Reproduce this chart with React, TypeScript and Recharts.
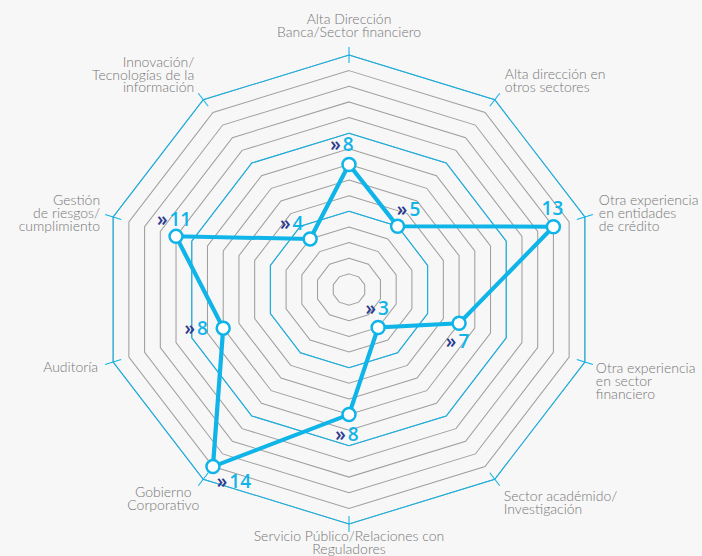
import {
  PolarAngleAxis,
  PolarGrid,
  PolarRadiusAxis,
  Radar,
  RadarChart,
} from "recharts";

const categories = [
  "Alta Dirección\nBanca/Sector financiero",
  "Alta dirección en\notros sectores",
  "Otra experiencia\nen entidades\nde crédito",
  "Otra experiencia\nen sector\nfinanciero",
  "Sector académido/\nInvestigación",
  "Servicio Público/Relaciones con\nReguladores",
  "Gobierno\nCorporativo",
  "Auditoría",
  "Gestión\nde riesgos/\ncumplimiento",
  "Innovación/\nTecnologías de la\ninformación",
];
const counts = [8, 5, 13, 7, 3, 8, 14, 8, 11, 4];
const hasChevron = [true, true, false, true, true, true, true, true, true, true];
const maxValue = 15;
const highlightRings = [5, 10, 15];

const CX = 349;
const CY = 289.5;
const R = 234.5;
// the original polygon is a bit wider than tall
const SX = 248 / 234.5;

const CYAN = "#0fb4e8";
const NAVY = "#2c3a8f";
const GRAY = "#9f9f9f";
const LABEL = "#767676";

// axis label placement, relative to the outer vertex (screen px)
const axisLabelPos: { anchor: "start" | "middle" | "end"; dx: number; dy: number }[] = [
  { anchor: "middle", dx: 0, dy: -31 },
  { anchor: "start", dx: 10, dy: -21 },
  { anchor: "start", dx: 14, dy: -12 },
  { anchor: "start", dx: 11, dy: 11 },
  { anchor: "start", dx: 9, dy: 21.5 },
  { anchor: "middle", dx: 0, dy: 17 },
  { anchor: "middle", dx: -40, dy: 18 },
  { anchor: "end", dx: -15, dy: 10 },
  { anchor: "end", dx: -13, dy: -12 },
  { anchor: "end", dx: -9, dy: -33 },
];

// value label offset from its dot (screen px, text centre / baseline)
const valueLabelPos = [
  [-7, -13],
  [11, -10],
  [-1, -12],
  [-1.5, 25],
  [-1, -12],
  [-2, 26],
  [21, 21],
  [-27, 7],
  [-2, -10],
  [-18.5, -9],
];

const data = categories.map((c, i) => ({ category: c, count: counts[i] }));

function AxisTick(p: any) {
  const i = categories.indexOf(p.payload.value);
  const rad = (-p.payload.coordinate * Math.PI) / 180;
  const vx = CX + R * Math.cos(rad);
  const vy = CY + R * Math.sin(rad);
  const pos = axisLabelPos[i];
  const lines = String(p.payload.value).split("\n");
  return (
    <g>
      <line
        x1={vx - 8 * Math.cos(rad)}
        y1={vy - 8 * Math.sin(rad)}
        x2={vx + 8 * Math.cos(rad)}
        y2={vy + 8 * Math.sin(rad)}
        stroke={CYAN}
        strokeWidth={1}
      />
      <g transform={`translate(${vx},${vy}) scale(${1 / SX},1)`}>
        <text
          textAnchor={pos.anchor}
          fontFamily="Lato, 'Open Sans', sans-serif"
          fontWeight={300}
          fontSize={14}
          fill={LABEL}
        >
          {lines.map((l, k) => (
            <tspan key={k} x={pos.dx} y={pos.dy + k * 12.8}>
              {l}
            </tspan>
          ))}
        </text>
      </g>
    </g>
  );
}

function ValueDot(p: any) {
  const i = p.index;
  const [dx, dy] = valueLabelPos[i];
  return (
    <g key={`dot-${i}`} transform={`translate(${p.cx},${p.cy}) scale(${1 / SX},1)`}>
      <circle r={6.5} fill="#fff" stroke={CYAN} strokeWidth={2.5} />
      <text
        x={dx}
        y={dy}
        textAnchor="middle"
        fontFamily="'Open Sans', sans-serif"
        fontSize={19}
        fontWeight={600}
      >
        {hasChevron[i] && <tspan fill={NAVY}>»</tspan>}
        <tspan fill={CYAN} dx={hasChevron[i] ? 2 : 0}>
          {counts[i]}
        </tspan>
      </text>
    </g>
  );
}

export default function App() {
  return (
    <div
      style={{
        position: "absolute",
        left: 0,
        top: 0,
        width: 702,
        height: 556,
        background: "#f7f7f7",
        overflow: "hidden",
      }}
    >
      <div style={{ transform: `scaleX(${SX})`, transformOrigin: `${CX}px 0` }}>
        <RadarChart
          width={702}
          height={556}
          data={data}
          cx={CX}
          cy={CY}
          outerRadius={R}
          margin={{ top: 0, right: 0, bottom: 0, left: 0 }}
        >
          <PolarGrid gridType="polygon" radialLines={false} stroke={GRAY} />
          <PolarGrid
            gridType="polygon"
            radialLines={false}
            stroke={CYAN}
            polarRadius={highlightRings.map((v) => (v / maxValue) * R)}
          />
          <PolarAngleAxis
            dataKey="category"
            tick={AxisTick}
            tickLine={false}
            axisLine={false}
          />
          <PolarRadiusAxis
            domain={[0, maxValue]}
            tickCount={maxValue + 1}
            tick={false}
            axisLine={false}
          />
          <Radar
            dataKey="count"
            stroke={CYAN}
            strokeWidth={4}
            fill="none"
            fillOpacity={0}
            dot={ValueDot}
            isAnimationActive={false}
          />
        </RadarChart>
      </div>
    </div>
  );
}
